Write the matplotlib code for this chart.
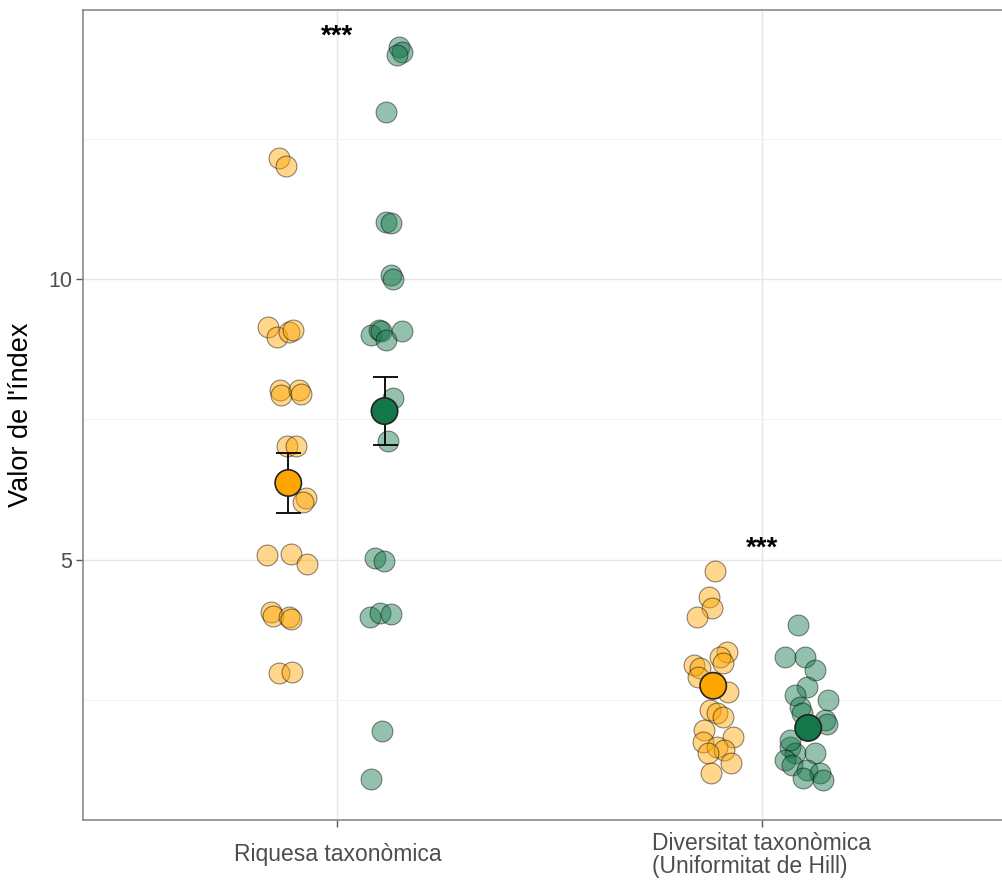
import matplotlib
matplotlib.use("Agg")
import matplotlib.pyplot as plt
from matplotlib.ticker import FixedLocator

plt.rcParams['font.family'] = ['Liberation Sans', 'DejaVu Sans']

# ---- data -------------------------------------------------------------
categories = ["Riquesa taxonòmica", "Diversitat taxonòmica\n(Uniformitat de Hill)"]
y_ticks = [5, 10]
y_label = "Valor de l'índex"
signif = ["***", "***"]

# Taxonomic richness – jittered observations (x = jittered position, y = value)
riq_orange_x = [0.862, 0.879, 0.836, 0.858, 0.886, 0.895, 0.865, 0.867, 0.909, 0.914,
                0.881, 0.902, 0.926, 0.919, 0.834, 0.891, 0.928, 0.843, 0.848, 0.886,
                0.891, 0.862, 0.893]
riq_orange_y = [12.15, 12.01, 9.15, 8.97, 9.06, 9.09, 8.02, 7.94, 8.02, 7.95,
                7.03, 7.03, 6.10, 6.03, 5.09, 5.11, 4.93, 4.07, 4.00, 3.99,
                3.95, 2.99, 3.01]
riq_green_x = [1.145, 1.152, 1.141, 1.115, 1.115, 1.126, 1.126, 1.131, 1.079, 1.098,
               1.102, 1.115, 1.152, 1.131, 1.119, 1.089, 1.110, 1.077, 1.100, 1.126,
               1.105, 1.079]
riq_green_y = [14.13, 14.04, 13.99, 12.97, 11.01, 11.00, 10.07, 10.00, 9.00, 9.09,
               9.07, 8.91, 9.07, 7.88, 7.12, 5.04, 4.98, 3.99, 4.06, 4.04,
               1.96, 1.10]

# Taxonomic diversity (Hill evenness) – jittered observations
div_orange_x = [1.891, 1.876, 1.883, 1.848, 1.919, 1.902, 1.909, 1.841, 1.855, 1.851,
                1.921, 1.879, 1.895, 1.909, 1.865, 1.933, 1.862, 1.895, 1.912, 1.874,
                1.928, 1.881]
div_orange_y = [4.80, 4.34, 4.15, 3.99, 3.36, 3.27, 3.17, 3.13, 3.08, 2.92,
                2.65, 2.33, 2.28, 2.21, 1.98, 1.85, 1.76, 1.67, 1.62, 1.57,
                1.39, 1.21]
div_green_x = [2.086, 2.056, 2.103, 2.126, 2.108, 2.079, 2.157, 2.091, 2.096, 2.150,
               2.155, 2.067, 2.079, 2.126, 2.056, 2.072, 2.108, 2.138, 2.098, 2.145,
               2.067]
div_green_y = [3.84, 3.27, 3.27, 3.04, 2.74, 2.60, 2.51, 2.38, 2.28, 2.15,
               2.08, 1.67, 1.57, 1.57, 1.44, 1.35, 1.26, 1.21, 1.12, 1.09,
               1.80]

# Group means (orange, green) and standard errors
riq_mean_x = [0.884, 1.111]
riq_mean = [6.37, 7.65]
riq_se = [0.53, 0.60]
div_mean_x = [1.886, 2.110]
div_mean = [2.76, 2.01]

# ---- style ------------------------------------------------------------
ORANGE = "#FFA500"
GREEN = "#13774a"
ALPHA = 0.45
PT_SIZE = 225
MEAN_SIZE = 360
TEXT_GREY = "#4d4d4d"
BORDER = "#8a8a8a"

W, H = 1002, 882
fig = plt.figure(figsize=(W / 100, H / 100), dpi=100)
left_px, right_px, top_px, bottom_px = 83, 1016, 10, 820
ax = fig.add_axes([left_px / W, 1 - bottom_px / H,
                   (right_px - left_px) / W, (bottom_px - top_px) / H])

ax.set_xlim(0.4, 2.6)
ax.set_ylim(0.37, 14.79)

# grid
ax.yaxis.set_major_locator(FixedLocator(y_ticks))
ax.yaxis.set_minor_locator(FixedLocator([2.5, 7.5, 12.5]))
ax.set_xticks([1, 2])
ax.grid(True, which='major', color="#e6e6e6", linewidth=1.0, zorder=0)
ax.grid(True, which='minor', axis='y', color="#f2f2f2", linewidth=0.7, zorder=0)
ax.set_axisbelow(True)

# jittered observations
for xs, ys, col in [(riq_orange_x, riq_orange_y, ORANGE),
                    (riq_green_x, riq_green_y, GREEN),
                    (div_orange_x, div_orange_y, ORANGE),
                    (div_green_x, div_green_y, GREEN)]:
    ax.scatter(xs, ys, s=PT_SIZE, color=col, alpha=ALPHA,
               edgecolors="black", linewidths=0.8, zorder=3)

# error bars for richness means
for x, m, se in zip(riq_mean_x, riq_mean, riq_se):
    ax.errorbar([x], [m], yerr=[se], fmt='none', ecolor='black',
                elinewidth=1.3, capsize=9, capthick=1.3, zorder=4)

# mean points
mean_cols = [ORANGE, GREEN]
for xs, ms in [(riq_mean_x, riq_mean), (div_mean_x, div_mean)]:
    ax.scatter(xs, ms, s=MEAN_SIZE, color=mean_cols, edgecolors="#222222",
               linewidths=1.2, zorder=5)

# significance marks
ax.text(1, 14.2, signif[0], ha='center', va='baseline', fontsize=20,
        fontweight='bold', color='black', zorder=6)
ax.text(2, 5.07, signif[1], ha='center', va='baseline', fontsize=20,
        fontweight='bold', color='black', zorder=6)

# axes cosmetics
for side in ['left', 'top', 'bottom', 'right']:
    ax.spines[side].set_color(BORDER)
    ax.spines[side].set_linewidth(1.2)

ax.tick_params(axis='both', which='major', length=5, width=1.0,
               color="#555555", labelcolor=TEXT_GREY)
ax.tick_params(axis='y', which='minor', length=0)
ax.tick_params(axis='y', labelsize=15.5, pad=3)
ax.tick_params(axis='x', labelsize=16.5, pad=20)

ax.set_xticklabels(categories)
for lbl in ax.get_xticklabels():
    lbl.set_va('center')
    lbl.set_multialignment('left')
    lbl.set_linespacing(1.02)

ax.set_ylabel(y_label, fontsize=19.5, color='black', labelpad=10)

fig.savefig("out.png", dpi=100)
